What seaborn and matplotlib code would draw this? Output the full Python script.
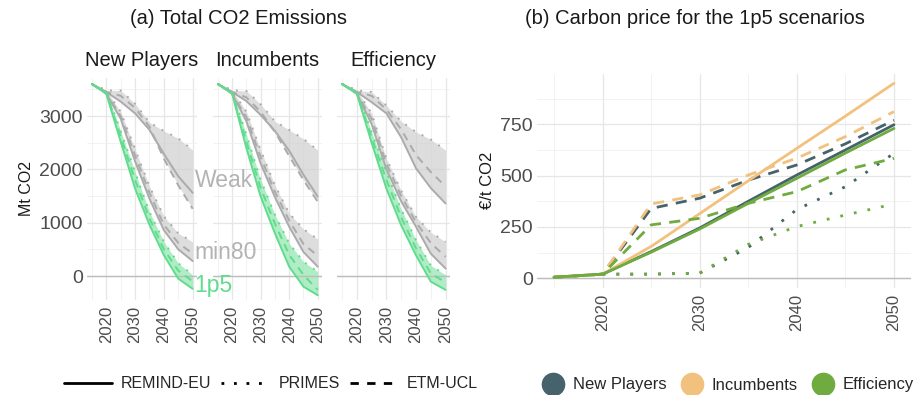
import numpy as np
import pandas as pd
import seaborn as sns
import matplotlib.pyplot as plt
from matplotlib.lines import Line2D

# years used in both panels
years = [2015, 2020, 2025, 2030, 2035, 2040, 2045, 2050]
models = ['REMIND-EU', 'PRIMES', 'ETM-UCL']
scenarios = ['Weak', 'min80', '1p5']
facets = ['New Players', 'Incumbents', 'Efficiency']

# (a) total CO2 emissions, Mt CO2  -> [REMIND-EU, PRIMES, ETM-UCL]
np_weak = [[3600, 3450, 3270, 3050, 2740, 2290, 1870, 1560],
           [3600, 3480, 3480, 3230, 2880, 2720, 2580, 2360],
           [3600, 3450, 3380, 3150, 2800, 2200, 1700, 1260]]
np_min80 = [[3600, 3420, 2950, 2150, 1450, 860, 500, 280],
            [3600, 3480, 3080, 2380, 1680, 1120, 800, 640],
            [3600, 3420, 3000, 2260, 1560, 960, 620, 420]]
np_1p5 = [[3600, 3420, 2520, 1640, 960, 390, -50, -240],
          [3600, 3470, 2720, 1950, 1200, 640, 240, 20],
          [3600, 3430, 2620, 1800, 1080, 500, 100, -100]]

inc_weak = [[3600, 3450, 3280, 3020, 2720, 2350, 1900, 1490],
            [3600, 3480, 3470, 3220, 2900, 2740, 2570, 2360],
            [3600, 3450, 3350, 3080, 2700, 2250, 1800, 1390]]
inc_min80 = [[3600, 3420, 2900, 2110, 1480, 925, 450, 175],
             [3600, 3480, 3080, 2360, 1700, 1175, 880, 690],
             [3600, 3420, 2980, 2230, 1580, 1040, 600, 380]]
inc_1p5 = [[3600, 3420, 2400, 1490, 800, 175, -200, -360],
           [3600, 3470, 2650, 1800, 1150, 610, 270, 80],
           [3600, 3430, 2520, 1650, 980, 400, 20, -260]]

eff_weak = [[3600, 3450, 3260, 3050, 2600, 2020, 1650, 1360],
            [3600, 3480, 3450, 3200, 2900, 2700, 2560, 2360],
            [3600, 3450, 3380, 3120, 2750, 2270, 1950, 1680]]
eff_min80 = [[3600, 3420, 2850, 2000, 1400, 925, 420, 140],
             [3600, 3480, 3050, 2200, 1600, 1110, 820, 640],
             [3600, 3420, 2950, 2100, 1500, 1010, 620, 360]]
eff_1p5 = [[3600, 3420, 2500, 1640, 950, 390, -105, -260],
           [3600, 3470, 2700, 1950, 1250, 675, 200, 20],
           [3600, 3430, 2600, 1800, 1100, 520, 50, -120]]

# (b) carbon price, EUR/t CO2 -> [REMIND-EU, PRIMES, ETM-UCL]
price_np = [[5, 20, 130, 245, 375, 503, 625, 748],
            [np.nan, 20, 20, 25, 150, 335, 446, 609],
            [5, 20, 340, 390, 478, 552, 655, 770]]
price_inc = [[5, 20, 155, 315, 475, 633, 790, 950],
             [np.nan] * 8,
             [5, 20, 362, 406, 503, 585, 690, 812]]
price_eff = [[5, 20, 127, 240, 365, 487, 610, 730],
             [np.nan, 20, 20, 25, 165, 252, 308, 362],
             [5, 20, 260, 292, 365, 422, 528, 584]]

emis = {'New Players': [np_weak, np_min80, np_1p5],
        'Incumbents': [inc_weak, inc_min80, inc_1p5],
        'Efficiency': [eff_weak, eff_min80, eff_1p5]}
prices = {'New Players': price_np, 'Incumbents': price_inc, 'Efficiency': price_eff}

rows = []
for f in facets:
    for s, block in zip(scenarios, emis[f]):
        for m, vals in zip(models, block):
            for y, v in zip(years, vals):
                rows.append((f, s, m, y, v))
emis_df = pd.DataFrame(rows, columns=['facet', 'scenario', 'model', 'year', 'value'])

rows = []
for f in facets:
    for m, vals in zip(models, prices[f]):
        for y, v in zip(years, vals):
            rows.append((f, m, y, v))
price_df = pd.DataFrame(rows, columns=['facet', 'model', 'year', 'price']).dropna()

sns.set_theme(style='whitegrid')
plt.rcParams['font.family'] = ['Liberation Sans', 'DejaVu Sans']

grey = '#ababab'
green = '#5fdc8c'
scen_col = {'Weak': grey, 'min80': grey, '1p5': green}
fill_col = {'Weak': '#cfcfcf', 'min80': '#cfcfcf', '1p5': '#8fe6ae'}
facet_col = {'New Players': '#46626b', 'Incumbents': '#f1c17d', 'Efficiency': '#6fab3e'}
dashes = {'REMIND-EU': '', 'PRIMES': (1, 4), 'ETM-UCL': (4, 3)}
tick_col = '#4d4d4d'

fig = plt.figure(figsize=(9.21, 3.95), dpi=100)


def style_axes(ax):
    ax.set_facecolor('white')
    for sp in ax.spines.values():
        sp.set_visible(False)
    ax.grid(which='major', color='#e6e6e6', lw=0.9)
    ax.grid(which='minor', color='#f0f0f0', lw=0.6)
    ax.tick_params(which='both', length=0, colors=tick_col)
    ax.set_xlabel('')


# ---- (a) emissions facets
lefts = [87, 213, 337]
widths = [110, 109, 113]
axes_a = []
for i, f in enumerate(facets):
    ax = fig.add_axes([lefts[i] / 921, 1 - 300 / 395, widths[i] / 921, 222 / 395])
    sub = emis_df[emis_df.facet == f]
    for s in scenarios:
        band = sub[sub.scenario == s].groupby('year')['value']
        ax.fill_between(band.min().index, band.min().values, band.max().values,
                        color=fill_col[s], alpha=0.7, lw=0)
    ax.axhline(0, color='#bdbdbd', lw=1.0)
    sns.lineplot(data=sub, x='year', y='value', hue='scenario', style='model',
                 units='scenario', estimator=None, palette=scen_col, dashes=dashes,
                 lw=1.4, legend=False, ax=ax)
    ax.set_xlim(2013.3, 2051.5)
    ax.set_ylim(-450, 3713)
    ax.set_xticks([2020, 2030, 2040, 2050])
    ax.set_xticks([2015, 2025, 2035, 2045], minor=True)
    ax.set_yticks([0, 1000, 2000, 3000])
    ax.set_yticks([500, 1500, 2500, 3500], minor=True)
    style_axes(ax)
    ax.tick_params(axis='x', labelrotation=90, labelsize=12, pad=4)
    ax.tick_params(axis='y', labelsize=14, pad=3)
    ax.set_title(f, fontsize=14.5, pad=9, color='#1a1a1a')
    if i == 0:
        ax.set_ylabel('Mt CO2', fontsize=11.5, color='#1a1a1a', labelpad=4)
    else:
        ax.set_ylabel('')
        ax.set_yticklabels([])
    axes_a.append(ax)

# scenario labels sit on top of the neighbouring facet
lab_ax = axes_a[0]
for txt, yv, c in [('Weak', 1800, '#b3b3b3'), ('min80', 450, '#b3b3b3'), ('1p5', -170, green)]:
    fig.text(2050.6, yv, txt, fontsize=16.5, color=c, va='center', ha='left',
             transform=lab_ax.transData, zorder=10)

# ---- (b) carbon price
axb = fig.add_axes([537 / 921, 1 - 288 / 395, 374 / 921, 214.5 / 395])
axb.axhline(0, color='#bdbdbd', lw=1.0)
sns.lineplot(data=price_df, x='year', y='price', hue='facet', style='model',
             units='facet', estimator=None, palette=facet_col, dashes=dashes,
             lw=2.0, legend=False, ax=axb)
axb.set_xlim(2013.25, 2051.75)
axb.set_ylim(-47.5, 997.5)
axb.set_xticks([2020, 2030, 2040, 2050])
axb.set_xticks([2015, 2025, 2035, 2045], minor=True)
axb.set_yticks([0, 250, 500, 750])
axb.set_yticks([125, 375, 625, 875], minor=True)
style_axes(axb)
axb.tick_params(axis='x', labelrotation=90, labelsize=12, pad=4)
axb.tick_params(axis='y', labelsize=14, pad=3)
axb.set_ylabel('€/t CO2', fontsize=12, color='#1a1a1a', labelpad=4)

# titles
fig.text(238 / 921, 1 - 18 / 395, '(a) Total CO2 Emissions', fontsize=14.5,
         ha='center', va='center', color='#1a1a1a')
fig.text(695 / 921, 1 - 18 / 395, '(b) Carbon price for the 1p5 scenarios', fontsize=14.5,
         ha='center', va='center', color='#1a1a1a')

# legends
line_handles = [Line2D([], [], color='black', lw=2, linestyle='-'),
                Line2D([], [], color='black', lw=2, linestyle=(0, (1, 3.5))),
                Line2D([], [], color='black', lw=2, linestyle=(0, (3, 3)))]
fig.legend(line_handles, models, loc='center', bbox_to_anchor=(271 / 921, 1 - 384 / 395),
           ncol=3, frameon=False, fontsize=11.5, handlelength=3.0, columnspacing=0.6,
           handletextpad=0.6)

dot_handles = [Line2D([], [], color=facet_col[f], marker='o', lw=0, markersize=16)
               for f in facets]
fig.legend(dot_handles, facets, loc='center', bbox_to_anchor=(728 / 921, 1 - 385 / 395),
           ncol=3, frameon=False, fontsize=12, handlelength=1.3, columnspacing=0.9,
           handletextpad=0.5)

plt.savefig('out.png', dpi=100)
